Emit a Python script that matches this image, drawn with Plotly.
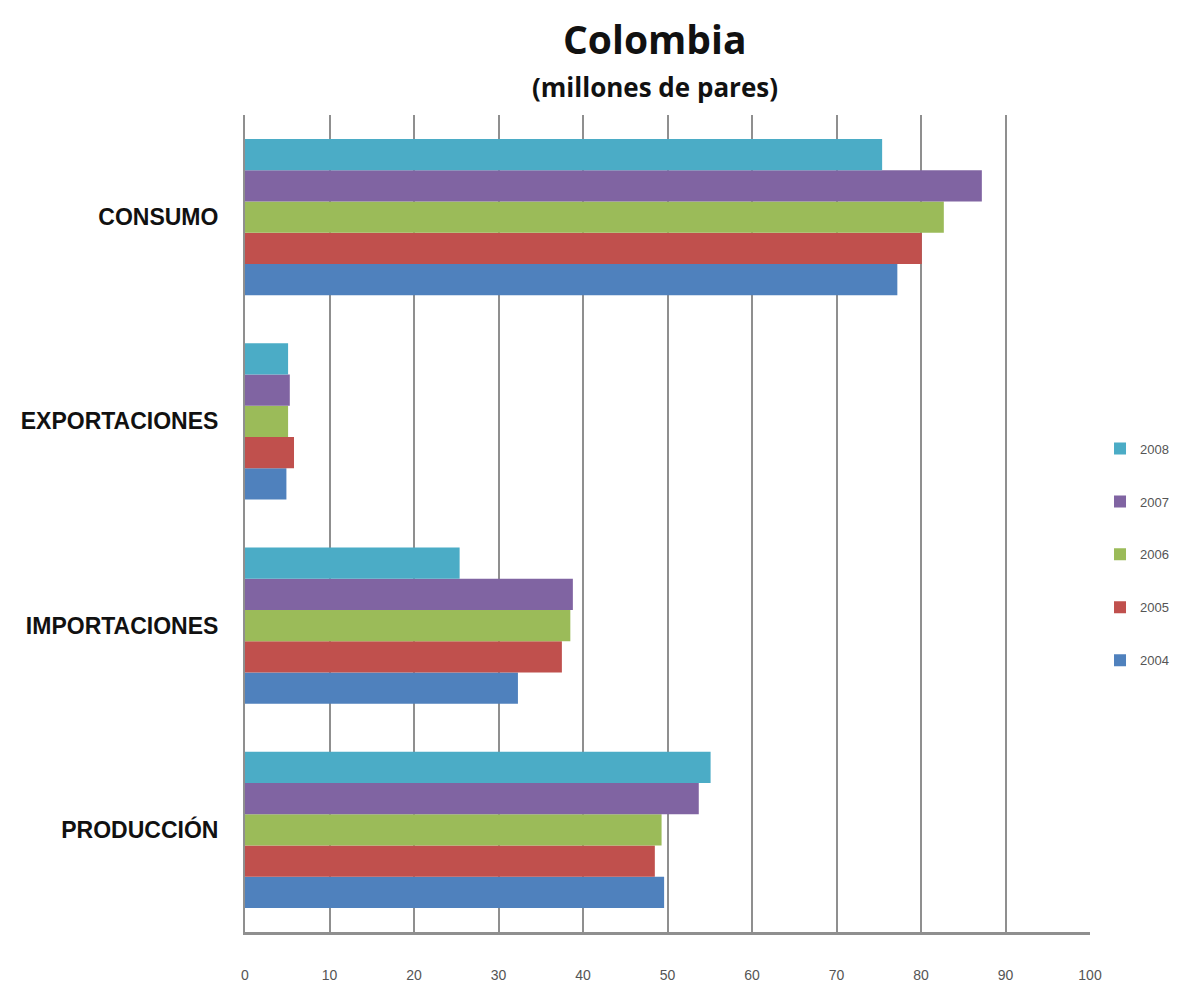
import plotly.graph_objects as go

# Categories listed bottom to top on the y axis
categories = ["PRODUCCIÓN", "IMPORTACIONES", "EXPORTACIONES", "CONSUMO"]
years = ["2004", "2005", "2006", "2007", "2008"]

# Millions of pairs per year, same order as categories
values_2004 = [49.6, 32.3, 4.9, 77.2]
values_2005 = [48.5, 37.5, 5.8, 80.1]
values_2006 = [49.3, 38.5, 5.1, 82.7]
values_2007 = [53.7, 38.8, 5.3, 87.2]
values_2008 = [55.1, 25.4, 5.1, 75.4]

series = [values_2004, values_2005, values_2006, values_2007, values_2008]
colors = ["#4F81BD", "#C0504D", "#9BBB59", "#8064A2", "#4BACC6"]

x_ticks = list(range(0, 101, 10))

fig = go.Figure()
for i, (year, vals, col) in enumerate(zip(years, series, colors)):
    fig.add_trace(go.Bar(
        y=categories, x=vals, name=year, orientation="h",
        marker=dict(color=col, line=dict(width=0)),
        legendgroup=year,
        legendrank=len(years) - i,  # newest year listed first
    ))

fig.update_layout(
    width=1186, height=990,
    margin=dict(l=245, r=96, t=115, b=58, autoexpand=False),
    paper_bgcolor="white", plot_bgcolor="white",
    barmode="group", bargap=0.235, bargroupgap=0,
    showlegend=True,
    legend=dict(
        xref="container", yref="container",
        x=0.9275, y=0.562, xanchor="left", yanchor="top",
        traceorder="grouped", tracegroupgap=33,
        font=dict(family="Liberation Sans, Arial, sans-serif", size=13, color="#555555"),
        bgcolor="rgba(0,0,0,0)",
    ),
    annotations=[
        dict(text="<b>Colombia</b>", xref="paper", yref="paper", x=0.485, y=1.0,
             yshift=77, xanchor="center", yanchor="middle", showarrow=False,
             font=dict(family="Open Sans, sans-serif", size=39, color="#111111")),
        dict(text="<b>(millones de pares)</b>", xref="paper", yref="paper", x=0.485, y=1.0,
             yshift=28, xanchor="center", yanchor="middle", showarrow=False,
             font=dict(family="Open Sans, sans-serif", size=26, color="#111111")),
    ],
)

fig.update_xaxes(
    range=[0, 100], tickvals=x_ticks, ticktext=[str(t) for t in x_ticks],
    showgrid=True, gridcolor="#8f8f8f", gridwidth=2,
    zeroline=False, showline=True, linecolor="#8f8f8f", linewidth=3,
    ticks="", ticklabelstandoff=28, automargin=False,
    tickfont=dict(family="Liberation Sans, Arial, sans-serif", size=14, color="#555555"),
)
fig.update_yaxes(
    categoryorder="array", categoryarray=categories,
    showgrid=False, zeroline=False, showline=True, linecolor="#8f8f8f", linewidth=2,
    ticks="", ticklabelstandoff=20, automargin=False,
    tickfont=dict(family="Liberation Sans, Arial, sans-serif", size=23, color="#111111"),
    tickprefix="<b>", ticksuffix="</b>",
)

fig.write_html("out.html")
